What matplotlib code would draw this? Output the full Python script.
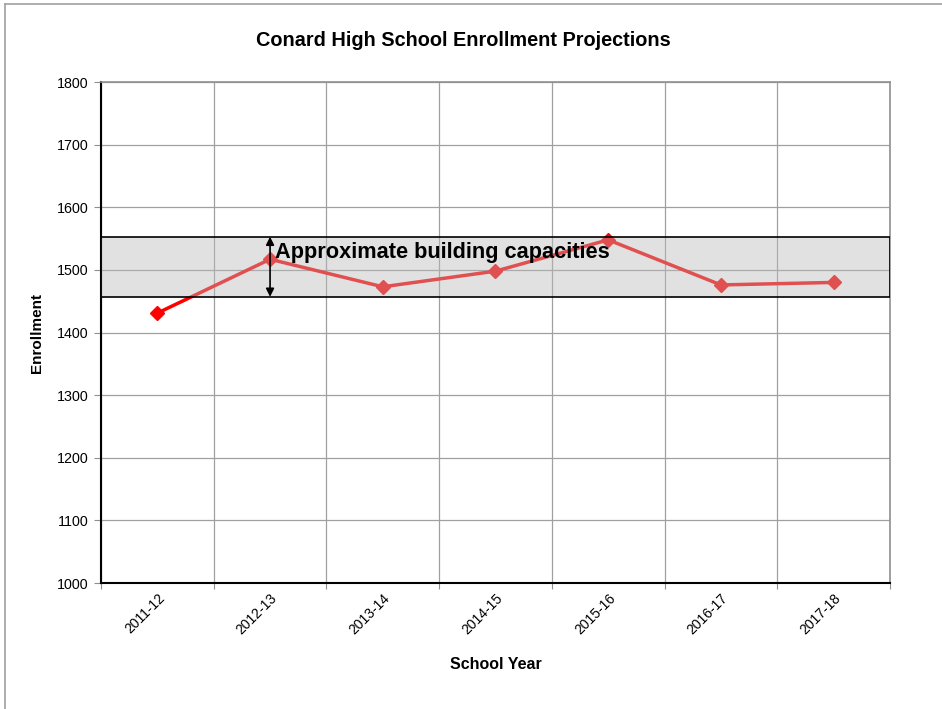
import matplotlib.pyplot as plt
from matplotlib.lines import Line2D

plt.rcParams['font.family'] = ['Liberation Sans', 'DejaVu Sans']

years = ['2011-12', '2012-13', '2013-14', '2014-15', '2015-16', '2016-17', '2017-18']
enrollment = [1431, 1517, 1473, 1498, 1548, 1476, 1480]
cap_low = 1457
cap_high = 1553

fig = plt.figure(figsize=(9.42, 7.09), dpi=100, facecolor='white')
ax = fig.add_axes([0.1072, 0.1777, 0.8376, 0.7066])

xs = list(range(len(years)))
ax.plot(xs, enrollment, color='#ff0000', lw=2.5, marker='D', ms=7.5, zorder=3)

# capacity band sits over the line, like the excel shape
ax.axhspan(cap_low, cap_high, facecolor='#bababa', alpha=0.43, edgecolor='none', zorder=4)
ax.axhspan(cap_low, cap_high, facecolor='none', edgecolor='black', lw=1.2, zorder=5)

ax.annotate('', xy=(1, cap_high), xytext=(1, cap_low),
            arrowprops=dict(arrowstyle='<|-|>', color='black', lw=1.2,
                            shrinkA=0, shrinkB=0, mutation_scale=12), zorder=6)
ax.text(1.04, 1527, 'Approximate building capacities', fontsize=15.7,
        fontweight='bold', va='center', ha='left', zorder=6)

ax.set_xlim(-0.5, len(years) - 0.5)
ax.set_ylim(1000, 1800)
ax.set_yticks(range(1000, 1801, 100))
ax.set_xticks([i - 0.5 for i in range(len(years) + 1)])
ax.set_xticklabels([])
ax.set_xticks(xs, minor=True)
ax.set_xticklabels(years, minor=True, rotation=45, ha='right', va='top',
                   rotation_mode='anchor', fontsize=10)
ax.tick_params(axis='x', which='minor', length=0, pad=6)
ax.tick_params(axis='x', which='major', length=4, color='#909090')
ax.tick_params(axis='y', length=5, color='#909090', labelsize=10.3, pad=4)

ax.grid(True, which='major', color='#a0a0a0', lw=0.9)
ax.set_axisbelow(True)

for side in ['left', 'bottom']:
    ax.spines[side].set_color('black')
    ax.spines[side].set_linewidth(1.5)
for side in ['top', 'right']:
    ax.spines[side].set_color('#909090')
    ax.spines[side].set_linewidth(1.2)

fig.text(463 / 942, 1 - 40 / 709, 'Conard High School Enrollment Projections',
         fontsize=14.3, fontweight='bold', ha='center', va='center')
ax.set_xlabel('School Year', fontsize=11.5, fontweight='bold', labelpad=14)
ax.set_ylabel('Enrollment', fontsize=11, fontweight='bold', labelpad=9)

# outer chart border (top and left visible)
fig.add_artist(Line2D([5 / 942, 1], [1 - 4 / 709, 1 - 4 / 709], color='#a0a0a0', lw=1.2))
fig.add_artist(Line2D([5 / 942, 5 / 942], [0, 1 - 4 / 709], color='#a0a0a0', lw=1.2))

fig.savefig('out.png', dpi=100, facecolor='white')
